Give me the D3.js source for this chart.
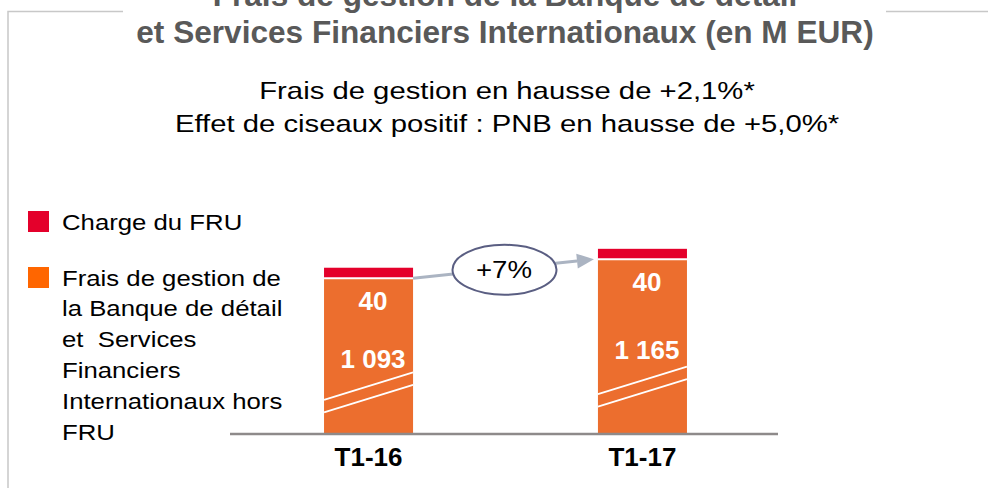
<!DOCTYPE html>
<html>
<head>
<meta charset="utf-8">
<script src="https://cdn.jsdelivr.net/npm/d3@7"></script>
<style>
	body { margin: 0; background: #fff; }
	svg { display: block; font-family: "Liberation Sans", Arial, sans-serif; }
</style>
</head>
<body>
<svg id="chart" width="988" height="488"></svg>
<script>
var categories = ["T1-16", "T1-17"];
var fraisHorsFru = [1093, 1165];
var chargeFru = [40, 40];
var fruLabels = ["40", "40"];
var valueLabels = ["1 093", "1 165"];
var breakLevels = [630, 652];
var variation = "+7%";

var titleLines = ["Frais de gestion de la Banque de détail", "et Services Financiers Internationaux (en M EUR)"];
var subtitleLines = ["Frais de gestion en hausse de +2,1%*", "Effet de ciseaux positif : PNB en hausse de +5,0%*"];
var legendItems = [
	{ color: "#e4002b", lines: ["Charge du FRU"] },
	{ color: "#ff6600", lines: ["Frais de gestion de", "la Banque de détail", "et  Services", "Financiers", "Internationaux hors", "FRU"] }
];

var orange = "#ec6e2e",
	red = "#e4002b",
	arrowColor = "#abb4c2";

var svg = d3.select("#chart");

var x = d3.scaleBand()
	.domain(categories)
	.range([232, 779])
	.paddingInner(0.675)
	.paddingOuter(0.336);

var y = d3.scaleLinear()
	.domain([500, 1250])
	.range([434, 237]);

var bw = x.bandwidth();

//frame around the slide
svg.append("path")
	.attr("d", "M8,488V11.5H123")
	.attr("fill", "none")
	.attr("stroke", "#c8c8c8")
	.attr("stroke-width", 1.5);
svg.append("line")
	.attr("x1", 886).attr("x2", 988)
	.attr("y1", 11.5).attr("y2", 11.5)
	.attr("stroke", "#c8c8c8")
	.attr("stroke-width", 1.5);

//title (first line is cut by the top edge, as in the slide)
svg.append("g").selectAll("text").data(titleLines).join("text")
	.attr("x", 505)
	.attr("y", function(d, i) { return 6 + i * 37; })
	.attr("text-anchor", "middle")
	.attr("font-size", 31.6)
	.attr("font-weight", "bold")
	.attr("fill", "#595959")
	.text(function(d) { return d; });

//subtitle, the original font is wider than Arial
svg.append("g").selectAll("text").data(subtitleLines).join("text")
	.attr("transform", function(d, i) { return "translate(507," + (99 + i * 32.5) + ") scale(1.22,1)"; })
	.attr("text-anchor", "middle")
	.attr("font-size", 24)
	.attr("fill", "#000")
	.text(function(d) { return d; });

//legend
var legend = svg.append("g");
var legendTop = [211, 267];
legendItems.forEach(function(item, i) {
	legend.append("rect")
		.attr("x", 28)
		.attr("y", legendTop[i])
		.attr("width", 21)
		.attr("height", 21)
		.attr("fill", item.color);
	legend.selectAll(null).data(item.lines).enter().append("text")
		.attr("transform", function(d, j) { return "translate(62," + (legendTop[i] + 18.5 + j * 30.8) + ") scale(1.17,1)"; })
		.attr("font-size", 22)
		.attr("fill", "#000")
		.style("white-space", "pre")
		.text(function(d) { return d; });
});

//bars
var gBars = svg.append("g").attr("class", "bars");
categories.forEach(function(c, i) {
	var x0 = x(c),
		total = fraisHorsFru[i] + chargeFru[i];

	gBars.append("rect")
		.attr("x", x0)
		.attr("y", y(fraisHorsFru[i]))
		.attr("width", bw)
		.attr("height", y.range()[0] - y(fraisHorsFru[i]))
		.attr("fill", orange);

	gBars.append("rect")
		.attr("x", x0)
		.attr("y", y(total))
		.attr("width", bw)
		.attr("height", y(fraisHorsFru[i]) - y(total))
		.attr("fill", red);

	//white gap between the two segments
	gBars.append("line")
		.attr("x1", x0).attr("x2", x0 + bw)
		.attr("y1", y(fraisHorsFru[i])).attr("y2", y(fraisHorsFru[i]))
		.attr("stroke", "#fff")
		.attr("stroke-width", 2);

	//axis break
	var yb = y(breakLevels[i]);
	[0, 12.5].forEach(function(off) {
		gBars.append("line")
			.attr("x1", x0).attr("y1", yb + off)
			.attr("x2", x0 + bw).attr("y2", yb + off - 27.5)
			.attr("stroke", "#fff")
			.attr("stroke-width", 1.8);
	});

	var top = y(fraisHorsFru[i]),
		breakMid = yb - 27.5 / 2;

	gBars.append("text")
		.attr("x", x0 + bw / 2 + 4.5)
		.attr("y", top + 32)
		.attr("text-anchor", "middle")
		.attr("font-size", 26)
		.attr("font-weight", "bold")
		.attr("fill", "#fff")
		.text(fruLabels[i]);

	gBars.append("text")
		.attr("x", x0 + bw / 2 + 4.5)
		.attr("y", top + 0.75 * (breakMid - top) + 9.3)
		.attr("text-anchor", "middle")
		.attr("font-size", 26)
		.attr("font-weight", "bold")
		.attr("fill", "#fff")
		.text(valueLabels[i]);
});

//axis
svg.append("line")
	.attr("x1", 230).attr("x2", 778)
	.attr("y1", 434).attr("y2", 434)
	.attr("stroke", "#8e8a8a")
	.attr("stroke-width", 2.5);

svg.append("g").selectAll("text").data(categories).join("text")
	.attr("x", function(d) { return x(d) + bw / 2; })
	.attr("y", 466)
	.attr("text-anchor", "middle")
	.attr("font-size", 26)
	.attr("font-weight", "bold")
	.attr("fill", "#000")
	.text(function(d) { return d; });

//growth arrow between the two bars
var pA = [x(categories[0]) + bw, y(fraisHorsFru[0])],
	pB = [x(categories[1]) - 4, y(fraisHorsFru[1])];
var ang = Math.atan2(pB[1] - pA[1], pB[0] - pA[0]);
var headLen = 17, headW = 7.5;
var pBase = [pB[0] - headLen * Math.cos(ang), pB[1] - headLen * Math.sin(ang)];

var gArrow = svg.append("g");
gArrow.append("line")
	.attr("x1", pA[0]).attr("y1", pA[1])
	.attr("x2", pBase[0]).attr("y2", pBase[1])
	.attr("stroke", arrowColor)
	.attr("stroke-width", 3);
gArrow.append("path")
	.attr("d", "M" + pB[0] + "," + pB[1] +
		"L" + (pBase[0] + headW * Math.sin(ang)) + "," + (pBase[1] - headW * Math.cos(ang)) +
		"L" + (pBase[0] - headW * Math.sin(ang)) + "," + (pBase[1] + headW * Math.cos(ang)) + "Z")
	.attr("fill", arrowColor);

var cx = (pA[0] + pB[0]) / 2 + 1,
	cy = (pA[1] + pB[1]) / 2 + 1;
gArrow.append("ellipse")
	.attr("cx", cx).attr("cy", cy)
	.attr("rx", 52).attr("ry", 25)
	.attr("fill", "#fff")
	.attr("stroke", "#5a5e82")
	.attr("stroke-width", 2);
gArrow.append("text")
	.attr("transform", "translate(" + (cx - 0.5) + "," + (cy + 8.5) + ") scale(1.15,1)")
	.attr("text-anchor", "middle")
	.attr("font-size", 24)
	.attr("fill", "#000")
	.text(variation);
</script>
</body>
</html>
